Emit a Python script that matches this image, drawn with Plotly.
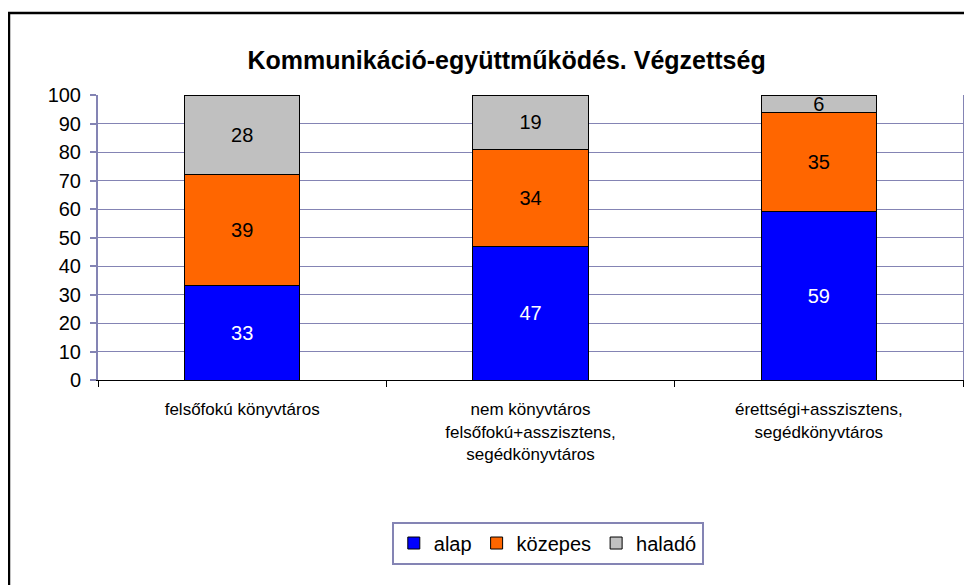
import plotly.graph_objects as go

categories = [
    "felsőfokú könyvtáros",
    "nem könyvtáros<br>felsőfokú+asszisztens,<br>segédkönyvtáros",
    "érettségi+asszisztens,<br>segédkönyvtáros",
]
alap = [33, 47, 59]
kozepes = [39, 34, 35]
halado = [28, 19, 6]

font = "Arial, Liberation Sans, sans-serif"
grid = "#8484B4"

fig = go.Figure()
for name, vals, color, tcolor in [
    ("alap", alap, "#0000FF", "white"),
    ("közepes", kozepes, "#FF6600", "black"),
    ("haladó", halado, "#C0C0C0", "black"),
]:
    fig.add_trace(go.Bar(
        x=categories, y=vals, name=name,
        marker=dict(color=color, line=dict(color="black", width=1)),
        text=vals, textposition="inside", insidetextanchor="middle", textangle=0,
        textfont=dict(color=tcolor, size=20, family=font),
        width=0.4,
    ))

fig.update_layout(
    barmode="stack",
    width=972, height=585,
    margin=dict(l=90, r=17, t=87, b=213),
    paper_bgcolor="white", plot_bgcolor="white",
    font=dict(family=font, size=20, color="black"),
    uniformtext=dict(minsize=20, mode="show"),
    title=dict(text="<b>Kommunikáció-együttműködés. Végzettség</b>",
               x=0.513, y=0.911, xanchor="center", yanchor="middle",
               font=dict(size=25, family=font)),
    legend=dict(orientation="h", x=0.52, y=-0.572, xanchor="center", yanchor="middle",
                bordercolor=grid, borderwidth=2, font=dict(size=20),
                itemwidth=30, traceorder="normal"),
    showlegend=True,
)
fig.update_yaxes(range=[0, 100], dtick=10, showgrid=True, gridcolor=grid, gridwidth=1,
                 showline=True, linecolor=grid, linewidth=2, mirror=True,
                 ticks="outside", ticklen=6, tickcolor=grid, tickwidth=2,
                 ticklabelstandoff=5, zeroline=False, tickfont=dict(size=20))
fig.update_xaxes(showline=True, linecolor="black", linewidth=1,
                 ticks="outside", tickson="boundaries", ticklen=6, tickcolor="black",
                 ticklabelstandoff=14, tickfont=dict(size=17))

# outer chart border (cropped on right and bottom)
fig.add_shape(type="rect", xref="paper", yref="paper",
              x0=-0.1029, x1=1.06, y0=-0.75, y1=1.2877,
              line=dict(color="black", width=2.5), layer="below")

fig.write_html("out.html")
